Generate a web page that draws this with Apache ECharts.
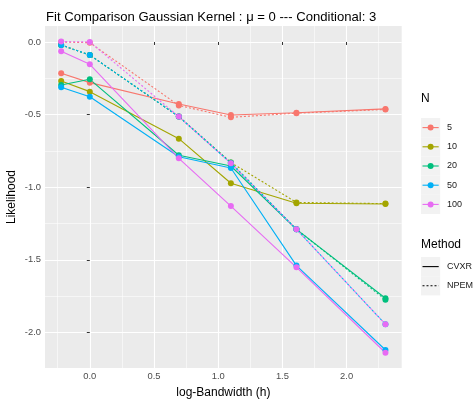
<!DOCTYPE html>
<html>
<head>
<meta charset="utf-8">
<script src="https://cdn.jsdelivr.net/npm/echarts@6/dist/echarts.min.js"></script>
<style>
  html, body { margin: 0; padding: 0; background: #fff; }
  #chart { width: 474px; height: 405px; }
</style>
</head>
<body>
<div id="chart"></div>
<script>
// Bandwidths h; the x axis shows log(h)
const bandwidths = [0.8, 1, 2, 3, 5, 10];

// Sample sizes and fitting methods
const sizes = ['5', '10', '20', '50', '100'];
const methods = ['CVXR', 'NPEM'];

// Likelihood per sample size, one array per method
const cvxr5   = [-0.216, -0.280, -0.427, -0.503, -0.487, -0.461];
const npem5   = [ 0.000, -0.005, -0.437, -0.519, -0.490, -0.465];
const cvxr10  = [-0.269, -0.342, -0.666, -0.973, -1.111, -1.116];
const npem10  = [-0.021, -0.090, -0.514, -0.830, -1.105, -1.113];
const cvxr20  = [-0.296, -0.257, -0.780, -0.854, -1.290, -1.765];
const npem20  = [-0.021, -0.090, -0.514, -0.830, -1.290, -1.775];
const cvxr50  = [-0.312, -0.377, -0.790, -0.868, -1.540, -2.121];
const npem50  = [-0.021, -0.090, -0.514, -0.835, -1.290, -1.944];
const cvxr100 = [-0.064, -0.154, -0.801, -1.130, -1.552, -2.140];
const npem100 = [ 0.003,  0.000, -0.514, -0.835, -1.290, -1.944];

// Axis tick positions
const xTicks = [0, 0.5, 1, 1.5, 2];
const yTicks = [-2, -1.5, -1, -0.5, 0];

const valuesBySize = {
  '5':   { CVXR: cvxr5,   NPEM: npem5 },
  '10':  { CVXR: cvxr10,  NPEM: npem10 },
  '20':  { CVXR: cvxr20,  NPEM: npem20 },
  '50':  { CVXR: cvxr50,  NPEM: npem50 },
  '100': { CVXR: cvxr100, NPEM: npem100 }
};

const palette = { '5': '#F8766D', '10': '#A3A500', '20': '#00BF7D', '50': '#00B0F6', '100': '#E76BF3' };
const dashes = { CVXR: 'solid', NPEM: [2, 2] };
const FONT = 'Liberation Sans, Arial, Helvetica, sans-serif';

const logH = bandwidths.map(h => Math.log(h));

const series = [];
sizes.forEach(n => {
  methods.forEach(m => {
    series.push({
      name: n + ' ' + m,
      type: 'line',
      data: logH.map((x, i) => [x, valuesBySize[n][m][i]]),
      symbol: 'circle',
      symbolSize: 6,
      showSymbol: true,
      lineStyle: { color: palette[n], width: 1.1, type: dashes[m] },
      itemStyle: { color: palette[n] },
      emphasis: { disabled: true },
      animation: false,
      clip: false
    });
  });
});

// Legend drawn as graphic elements on the right
const legend = [];
const keyX = 421, keyW = 19.2, keyH = 19.2, textX = 447;
const nTop = 118;
legend.push({ type: 'text', left: keyX, top: nTop - 25, style: { text: 'N', font: '12px ' + FONT, fill: '#000' } });
sizes.forEach((n, i) => {
  const y = nTop + i * keyH;
  legend.push({ type: 'rect', shape: { x: keyX, y: y, width: keyW, height: keyH }, style: { fill: '#F2F2F2' } });
  legend.push({ type: 'line', shape: { x1: keyX + 1.5, y1: y + keyH / 2, x2: keyX + keyW - 1.5, y2: y + keyH / 2 }, style: { stroke: palette[n], lineWidth: 1.1 } });
  legend.push({ type: 'circle', shape: { cx: keyX + keyW / 2, cy: y + keyH / 2, r: 3 }, style: { fill: palette[n] } });
  legend.push({ type: 'text', x: textX, y: y + keyH / 2, style: { text: n, font: '9px ' + FONT, fill: '#1A1A1A', verticalAlign: 'middle' } });
});
const mTop = 257;
legend.push({ type: 'text', left: keyX, top: mTop - 18, style: { text: 'Method', font: '12px ' + FONT, fill: '#000' } });
methods.forEach((m, i) => {
  const y = mTop + i * keyH;
  legend.push({ type: 'rect', shape: { x: keyX, y: y, width: keyW, height: keyH }, style: { fill: '#F2F2F2' } });
  legend.push({ type: 'line', shape: { x1: keyX + 1.5, y1: y + keyH / 2, x2: keyX + keyW - 1.5, y2: y + keyH / 2 }, style: { stroke: '#000', lineWidth: 1.1, lineDash: m === 'NPEM' ? [2, 2] : null } });
  legend.push({ type: 'text', x: textX, y: y + keyH / 2, style: { text: m, font: '9px ' + FONT, fill: '#1A1A1A', verticalAlign: 'middle' } });
});

const chart = echarts.init(document.getElementById('chart'), null, { renderer: 'canvas' });
chart.setOption({
  animation: false,
  backgroundColor: '#FFFFFF',
  textStyle: { fontFamily: FONT },
  title: {
    text: 'Fit Comparison Gaussian Kernel : \u03BC = 0 --- Conditional: 3',
    left: 41, top: 6,
    textStyle: { fontSize: 13.1, fontWeight: 'normal', color: '#000', fontFamily: FONT }
  },
  grid: {
    left: 45, top: 26, width: 356.7, height: 342,
    show: true, backgroundColor: '#EBEBEB', borderWidth: 0,
    containLabel: false, outerBoundsMode: 'none'
  },
  xAxis: {
    type: 'value',
    min: -0.349, max: 2.429,
    splitNumber: 5,
    name: 'log-Bandwidth (h)',
    nameLocation: 'middle',
    nameGap: 18.5,
    nameMoveOverlap: false,
    nameTextStyle: { fontSize: 12, color: '#000', fontFamily: FONT, verticalAlign: 'top' },
    axisLine: { show: false },
    axisTick: { show: true, length: 3, lineStyle: { color: '#333', width: 1 }, customValues: xTicks },
    axisLabel: { customValues: xTicks, formatter: v => v.toFixed(1), color: '#4D4D4D', fontSize: 9.4, margin: 4, fontFamily: FONT },
    splitLine: { show: true, lineStyle: { color: '#FFFFFF', width: 1.1 } },
    minorTick: { show: false, splitNumber: 2 },
    minorSplitLine: { show: true, lineStyle: { color: '#FFFFFF', width: 0.55 } }
  },
  yAxis: {
    type: 'value',
    min: -2.245, max: 0.110,
    splitNumber: 5,
    name: 'Likelihood',
    nameLocation: 'middle',
    nameGap: 27,
    nameRotate: 90,
    nameMoveOverlap: false,
    nameTextStyle: { fontSize: 12, color: '#000', fontFamily: FONT },
    axisLine: { show: false },
    axisTick: { show: true, length: 3, lineStyle: { color: '#333', width: 1 }, customValues: yTicks },
    axisLabel: { customValues: yTicks, formatter: v => v.toFixed(1), color: '#4D4D4D', fontSize: 9.4, margin: 4, fontFamily: FONT },
    splitLine: { show: true, lineStyle: { color: '#FFFFFF', width: 1.1 } },
    minorTick: { show: false, splitNumber: 2 },
    minorSplitLine: { show: true, lineStyle: { color: '#FFFFFF', width: 0.55 } }
  },
  graphic: legend,
  series: series
});
</script>
</body>
</html>
